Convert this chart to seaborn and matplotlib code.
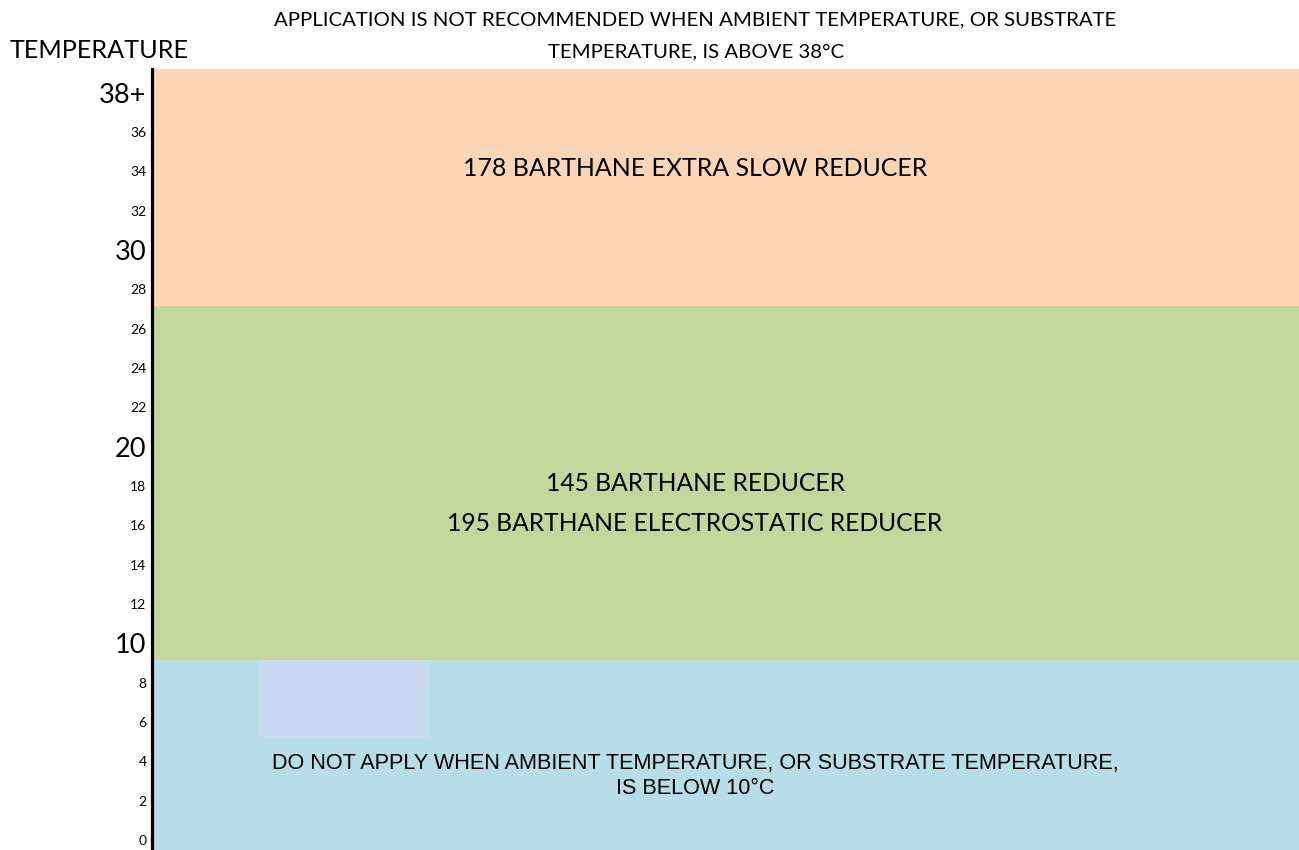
import matplotlib
matplotlib.use("Agg")
import matplotlib.pyplot as plt
import seaborn as sns
import pandas as pd

# ── Data ──────────────────────────────────────────────────────────────────────

band_names   = ["below", "normal", "hot"]
band_bottoms = [-0.5, 9.15, 27.15]
band_tops    = [9.15, 27.15, 39.2]
band_colors  = ["#b7dde8", "#c3d69b", "#fbd5b5"]

# small lighter box inside the cold band
box_bottom, box_top = 5.2, 9.15

tick_values = list(range(0, 40, 2))
tick_labels = [str(v) for v in tick_values[:-1]] + ["38+"]
big_ticks   = [10, 20, 30, 38]

title_lines = ["APPLICATION IS NOT RECOMMENDED WHEN AMBIENT TEMPERATURE, OR SUBSTRATE",
               "TEMPERATURE, IS ABOVE 38°C"]
hot_text    = "178 BARTHANE EXTRA SLOW REDUCER"
normal_text = ["145 BARTHANE REDUCER", "195 BARTHANE ELECTROSTATIC REDUCER"]
cold_text   = ["DO NOT APPLY WHEN AMBIENT TEMPERATURE, OR SUBSTRATE TEMPERATURE,",
               "IS BELOW 10°C"]

df = pd.DataFrame({"band": band_names, "bottom": band_bottoms,
                   "top": band_tops, "color": band_colors})
df["height"] = df["top"] - df["bottom"]

# ── Plot ──────────────────────────────────────────────────────────────────────

sns.set_theme(style="white")
plt.rcParams["font.family"] = ["Lato", "DejaVu Sans"]
plt.rcParams["text.color"] = "black"

fig = plt.figure(figsize=(12.99, 8.5), dpi=100)
ax = fig.add_axes([152 / 1299, 0, 1 - 152 / 1299, 1 - 69 / 850])

ax.bar(0, df["height"], bottom=df["bottom"], width=1.0,
       color=df["color"], linewidth=0)
ax.bar(-0.5 + (259 - 152) / 1147, box_top - box_bottom, bottom=box_bottom,
       width=(430 - 259) / 1147, align="edge", color="#c6d9f1", linewidth=0)

ax.set_xlim(-0.5, 0.5)
ax.set_ylim(band_bottoms[0], band_tops[-1])
ax.set_xticks([])
ax.set_yticks(tick_values)
ax.set_yticklabels(tick_labels)
ax.tick_params(axis="y", length=0, pad=4)
for v, lab in zip(tick_values, ax.get_yticklabels()):
    lab.set_fontsize(19.5 if v in big_ticks else 10)
    lab.set_color("black")

sns.despine(ax=ax, top=True, right=True, bottom=True)
ax.spines["left"].set_linewidth(2.3)
ax.spines["left"].set_color("black")

cx = (695 - 152) / 1147
ax.text(cx, 34.16, hot_text, transform=ax.get_yaxis_transform(),
        ha="center", va="center", fontsize=17.9)
ax.text(cx, 18.15, normal_text[0], transform=ax.get_yaxis_transform(),
        ha="center", va="center", fontsize=17.7)
ax.text(cx, 16.12, normal_text[1], transform=ax.get_yaxis_transform(),
        ha="center", va="center", fontsize=17.7)
ax.text(cx, 3.91, cold_text[0], transform=ax.get_yaxis_transform(),
        ha="center", va="center", fontsize=15.6, family="Liberation Sans")
ax.text(cx, 2.64, cold_text[1], transform=ax.get_yaxis_transform(),
        ha="center", va="center", fontsize=15.6, family="Liberation Sans")

fig.text(695 / 1299, 1 - 20 / 850, title_lines[0], ha="center", va="center",
         fontsize=14.7)
fig.text(696 / 1299, 1 - 52 / 850, title_lines[1], ha="center", va="center",
         fontsize=14.7)
fig.text(10 / 1299, 1 - 50 / 850, "TEMPERATURE", ha="left", va="center",
         fontsize=18.2)

fig.savefig("out.png", dpi=100)
